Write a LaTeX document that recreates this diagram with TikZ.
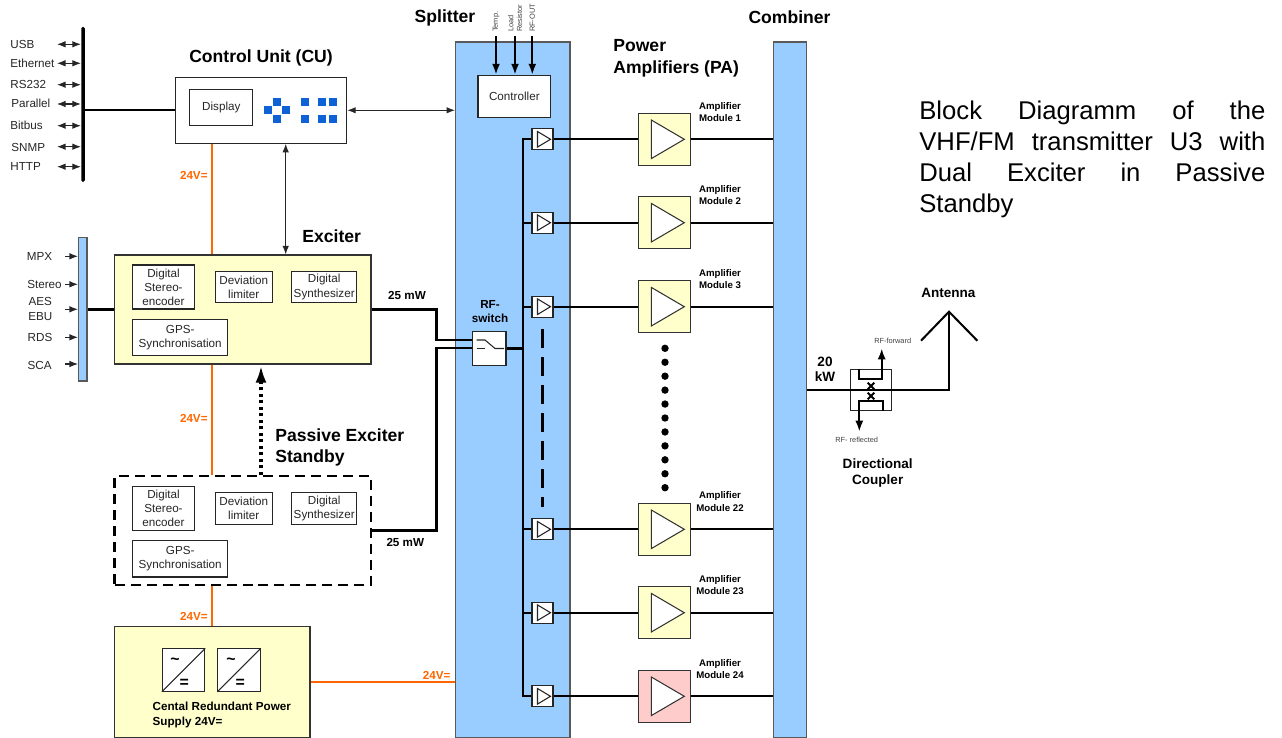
\documentclass[tikz,border=0pt]{standalone}
\usepackage{fontspec}
\setmainfont{Liberation Sans}
\usepackage{tikz}
\usetikzlibrary{arrows.meta}
\usetikzlibrary{shapes.misc}
\definecolor{myblockcolor}{HTML}{99CCFF}
\definecolor{mymodulecolor}{HTML}{FFFFCC}
\definecolor{myfaultcolor}{HTML}{FFCCCC}
\definecolor{mypowercolor}{HTML}{FF6600}
\definecolor{mykeycolor}{HTML}{0F62D6}
\tikzset{
  mytext/.style={inner sep=0pt, align=center, text=black!85, font=\fontsize{6.64pt}{8pt}\selectfont},
  mybold/.style={inner sep=0pt, align=center, font=\bfseries\fontsize{6.64pt}{8pt}\selectfont},
  myhead/.style={inner sep=0pt, align=left, font=\bfseries\fontsize{10pt}{12.4pt}\selectfont},
  mymid/.style={inner sep=0pt, align=center, font=\bfseries\fontsize{7.7pt}{8.6pt}\selectfont},
  mytiny/.style={inner sep=0pt, align=left, text=black!75, font=\fontsize{4.2pt}{5pt}\selectfont},
  myvolt/.style={mybold, text=mypowercolor},
  mymodule/.style={mybold, font=\bfseries\fontsize{5.5pt}{6.9pt}\selectfont},
  mybox/.style={draw=black!85, fill=white, rectangle, line width=0.6pt, mytext},
  myfield/.style={draw=black!80, fill=mymodulecolor, rectangle, line width=0.7pt, inner sep=0pt},
  myblock/.style={draw=black!65, fill=myblockcolor, rectangle, line width=0.8pt, inner sep=0pt},
  mykey/.style={fill=mykeycolor, rectangle, inner sep=0pt, minimum width=0.16cm, minimum height=0.16cm},
  mycross/.style={draw, cross out, line width=1.15pt, inner sep=0pt, minimum size=0.09cm},
  mypre/.style={draw=black!85, fill=white, rectangle, line width=0.6pt, inner sep=0pt, minimum width=0.42cm, minimum height=0.42cm,
    path picture={\draw[fill=white, line width=0.6pt] (-0.1,0.156) -- (0.16,0) -- (-0.1,-0.156) -- cycle;}},
  myamp/.style={myfield, minimum width=1.04cm, minimum height=1.04cm, fill=#1,
    path picture={\draw[fill=white, line width=0.6pt] (-0.268,0.386) -- (0.392,0) -- (-0.268,-0.386) -- cycle;}},
  myconv/.style={mybox, minimum width=0.846cm, minimum height=0.846cm},
  mythin/.style={line width=0.6pt, black!85},
  mythick/.style={line width=1.15pt},
  mytrunk/.style={line width=1.15pt},
  mysupply/.style={line width=1.2pt, mypowercolor},
  mybi/.style={mythin, {Latex[length=0.17cm,width=0.13cm]}-{Latex[length=0.17cm,width=0.13cm]}},
  myin/.style={mythin, -{Latex[length=0.17cm,width=0.13cm]}},
  mybig/.style={line width=1.15pt, -{Latex[length=0.22cm,width=0.16cm]}}
}

\begin{document}
\begin{tikzpicture}%
\useasboundingbox (0,0) rectangle (25.64,-14.76);%
\node[myblock, minimum width=2.286cm, minimum height=13.92cm] (splitter) at (10.257,-7.8) {};%
\node[myblock, minimum width=0.668cm, minimum height=13.92cm] (combiner) at (15.8,-7.8) {};%
\node[myhead] (splitterlabel) at (8.9,-0.354) {Splitter};%
\node[myhead] (combinerlabel) at (15.79,-0.354) {Combiner};%
\node[myhead, anchor=west] (palabel) at (12.26,-1.16) {Power\\Amplifiers (PA)};%
\node[fill=black, rectangle, inner sep=0pt, rounded corners=0.03cm, minimum width=0.07cm, minimum height=3.1cm] (bus) at (1.66,-2.09) {};%
\node[mytext, anchor=west] (usb) at (0.2,-0.88) {USB};%
\node[mytext, anchor=west] (ethernet) at (0.2,-1.26) {Ethernet};%
\node[mytext, anchor=west] (rsport) at (0.2,-1.68) {RS232};%
\node[mytext, anchor=west] (parallel) at (0.22,-2.06) {Parallel};%
\node[mytext, anchor=west] (bitbus) at (0.2,-2.5) {Bitbus};%
\node[mytext, anchor=west] (snmp) at (0.22,-2.94) {SNMP};%
\node[mytext, anchor=west] (http) at (0.2,-3.32) {HTTP};%
\coordinate (usbend) at (1.14,-0.886);%
\coordinate (ethernetend) at (1.14,-1.266);%
\coordinate (rsportend) at (1.14,-1.694);%
\coordinate (parallelend) at (1.14,-2.08);%
\coordinate (bitbusend) at (1.14,-2.514);%
\coordinate (snmpend) at (1.14,-2.934);%
\coordinate (httpend) at (1.14,-3.334);%
\node[myhead] (culabel) at (5.22,-1.16) {Control Unit (CU)};%
\node[mybox, minimum width=3.42cm, minimum height=1.32cm] (cu) at (5.224,-2.206) {};%
\node[mybox, minimum width=1.254cm, minimum height=0.728cm] (display) at (4.426,-2.15) {Display};%
\node[mykey] (keyup) at (5.54,-2.04) {};%
\node[mykey] (keyleft) at (5.354,-2.206) {};%
\node[mykey] (keyright) at (5.72,-2.206) {};%
\node[mykey] (keydown) at (5.54,-2.374) {};%
\node[mykey] (keya) at (6.1,-2.04) {};%
\node[mykey] (keyb) at (6.434,-2.04) {};%
\node[mykey] (keyc) at (6.654,-2.04) {};%
\node[mykey] (keyd) at (6.1,-2.374) {};%
\node[mykey] (keye) at (6.434,-2.374) {};%
\node[mykey] (keyf) at (6.654,-2.374) {};%
\node[myblock, minimum width=0.166cm, minimum height=2.874cm] (inbar) at (1.657,-6.183) {};%
\node[mytext] (mpx) at (0.79,-5.134) {MPX};%
\node[mytext] (stereo) at (0.89,-5.68) {Stereo};%
\node[mytext] (aesebu) at (0.806,-6.18) {AES\\EBU};%
\node[mytext] (rds) at (0.8,-6.754) {RDS};%
\node[mytext] (sca) at (0.794,-7.3) {SCA};%
\coordinate (mpxend) at (1.3,-5.126);%
\coordinate (stereoend) at (1.3,-5.686);%
\coordinate (aesebuend) at (1.3,-6.186);%
\coordinate (rdsend) at (1.3,-6.746);%
\coordinate (scaend) at (1.3,-7.28);%
\node[myhead] (exciterlabel) at (6.634,-4.72) {Exciter};%
\node[myfield, minimum width=5.13cm, minimum height=2.18cm] (exciter) at (4.855,-6.19) {};%
\node[mybox, minimum width=1.232cm, minimum height=0.88cm] (encoder) at (3.27,-5.74) {Digital\\Stereo-\\encoder};%
\node[mybox, minimum width=1.14cm, minimum height=0.628cm] (limiter) at (4.876,-5.74) {Deviation\\limiter};%
\node[mybox, minimum width=1.3cm, minimum height=0.628cm] (synth) at (6.484,-5.74) {Digital\\Synthesizer};%
\node[mybox, minimum width=1.9cm, minimum height=0.726cm] (gps) at (3.604,-6.744) {GPS-\\Synchronisation};%
\node[myhead, anchor=west] (passivelabel) at (5.5,-8.95) {Passive Exciter\\Standby};%
\node[draw, rectangle, inner sep=0pt, line width=1.2pt, dash pattern=on 0.2cm off 0.12cm, minimum width=5.13cm, minimum height=2.18cm] (standby) at (4.855,-10.61) {};%
\node[mybox, minimum width=1.232cm, minimum height=0.88cm] (encoderb) at (3.27,-10.17) {Digital\\Stereo-\\encoder};%
\node[mybox, minimum width=1.14cm, minimum height=0.628cm] (limiterb) at (4.876,-10.17) {Deviation\\limiter};%
\node[mybox, minimum width=1.3cm, minimum height=0.628cm] (synthb) at (6.484,-10.17) {Digital\\Synthesizer};%
\node[mybox, minimum width=1.9cm, minimum height=0.726cm] (gpsb) at (3.604,-11.177) {GPS-\\Synchronisation};%
\node[myfield, minimum width=3.906cm, minimum height=2.226cm] (power) at (4.247,-13.647) {};%
\node[myconv] (conva) at (3.67,-13.4) {};%
\node[myconv] (convb) at (4.78,-13.4) {};%
\node[mybold, font=\bfseries\fontsize{9pt}{9pt}\selectfont] (tildea) at (3.5,-13.234) {\textasciitilde};%
\node[mybold, font=\bfseries\fontsize{9pt}{9pt}\selectfont] (equala) at (3.686,-13.666) {=};%
\node[mybold, font=\bfseries\fontsize{9pt}{9pt}\selectfont] (tildeb) at (4.62,-13.234) {\textasciitilde};%
\node[mybold, font=\bfseries\fontsize{9pt}{9pt}\selectfont] (equalb) at (4.806,-13.666) {=};%
\node[mybold, anchor=west, align=left, font=\bfseries\fontsize{6.65pt}{8.3pt}\selectfont] (powerlabel) at (3.046,-14.3) {Cental Redundant Power\\Supply 24V=};%
\node[myvolt] (volta) at (3.876,-3.5) {24V=};%
\node[myvolt] (voltb) at (3.876,-8.366) {24V=};%
\node[myvolt] (voltc) at (3.88,-12.334) {24V=};%
\node[myvolt] (voltd) at (8.734,-13.5) {24V=};%
\node[mybold] (mwa) at (8.14,-5.914) {25 mW};%
\node[mybold] (mwb) at (8.106,-10.854) {25 mW};%
\node[mybox, minimum width=1.454cm, minimum height=0.84cm] (controller) at (10.287,-1.926) {Controller};%
\node[mytiny, anchor=west, rotate=90] (temp) at (9.92,-0.646) {Temp.};%
\node[mytiny, anchor=west, rotate=90] (load) at (10.3,-0.646) {Load\\Resistor};%
\node[mytiny, anchor=west, rotate=90] (rfout) at (10.646,-0.646) {RF-OUT};%
\node[mybold] (switchlabel) at (9.8,-6.24) {RF-\\switch};%
\node[mybox, minimum width=0.674cm, minimum height=0.674cm, path picture={\draw[line width=0.6pt] (-0.25,0.17) -- (-0.083,0.17) -- (0.117,0) -- (0.297,0); \draw[line width=0.6pt] (-0.25,0) -- (-0.083,0);}] (switch) at (9.783,-6.97) {};%
\node[mypre] (prea) at (10.85,-2.786) {};%
\node[mypre] (preb) at (10.85,-4.454) {};%
\node[mypre] (prec) at (10.85,-6.134) {};%
\node[mypre] (pred) at (10.85,-10.586) {};%
\node[mypre] (pree) at (10.85,-12.254) {};%
\node[mypre] (pref) at (10.85,-13.926) {};%
\node[myamp=mymodulecolor] (ampa) at (13.294,-2.786) {};%
\node[myamp=mymodulecolor] (ampb) at (13.294,-4.454) {};%
\node[myamp=mymodulecolor] (ampc) at (13.294,-6.134) {};%
\node[myamp=mymodulecolor] (ampd) at (13.294,-10.586) {};%
\node[myamp=mymodulecolor] (ampe) at (13.294,-12.254) {};%
\node[myamp=myfaultcolor] (ampf) at (13.294,-13.926) {};%
\node[mymodule] (moda) at (14.4,-2.234) {Amplifier\\Module 1};%
\node[mymodule] (modb) at (14.4,-3.902) {Amplifier\\Module 2};%
\node[mymodule] (modc) at (14.4,-5.582) {Amplifier\\Module 3};%
\node[mymodule] (modd) at (14.4,-10.03) {Amplifier\\Module 22};%
\node[mymodule] (mode) at (14.4,-11.702) {Amplifier\\Module 23};%
\node[mymodule] (modf) at (14.4,-13.374) {Amplifier\\Module 24};%
\node[draw=black!85, fill=white, rectangle, inner sep=0pt, line width=0.6pt, minimum width=0.82cm, minimum height=0.828cm] (coupler) at (17.416,-7.8) {};%
\node[mymid] (kwlabel) at (16.5,-7.38) {20\\kW};%
\node[mymid] (antennalabel) at (18.966,-5.854) {Antenna};%
\node[mymid, font=\bfseries\fontsize{7.7pt}{9.1pt}\selectfont] (couplerlabel) at (17.554,-9.46) {Directional\\Coupler};%
\node[mytiny] (forwardlabel) at (17.854,-6.82) {RF-forward};%
\node[mytiny] (reflectlabel) at (17.134,-8.8) {RF- reflected};%
\node[mycross] (crossa) at (17.42,-7.72) {};%
\node[mycross] (crossb) at (17.42,-7.92) {};%
\node[anchor=west, inner sep=0pt, text width=6.92cm, align=justify, font=\fontsize{14.6pt}{17.6pt}\selectfont] (titlelabel) at (18.38,-3.18) {Block Diagramm of the\linebreak VHF/FM transmitter U3 with\linebreak Dual Exciter in Passive\linebreak Standby};%
\coordinate (culink) at (5.714,-3);%
\coordinate (passiveup) at (5.22,-8);%
\coordinate (bend) at (8.73,-8);%
\coordinate (swtop) at (9.446,-6.8);%
\coordinate (swbot) at (9.446,-6.966);%
\coordinate (trunk) at (10.454,-8);%
\coordinate (dotstop) at (13.3,-6.966);%
\coordinate (dotsbot) at (13.3,-9.76);%
\coordinate (antfeed) at (18.98,-7.8);%
\coordinate (anttop) at (18.98,-6.234);%
\coordinate (antleft) at (18.42,-6.814);%
\coordinate (antright) at (19.546,-6.814);%
\coordinate (fwdin) at (17.186,-7.574);%
\coordinate (fwdtip) at (17.634,-6.966);%
\coordinate (refin) at (17.666,-8.02);%
\coordinate (reftip) at (17.186,-8.634);%
\draw[mybi] (usbend) -- (usbend -| bus.west);%
\draw[mybi] (ethernetend) -- (ethernetend -| bus.west);%
\draw[mybi] (rsportend) -- (rsportend -| bus.west);%
\draw[mybi] (parallelend) -- (parallelend -| bus.west);%
\draw[mybi] (bitbusend) -- (bitbusend -| bus.west);%
\draw[mybi] (snmpend) -- (snmpend -| bus.west);%
\draw[mybi] (httpend) -- (httpend -| bus.west);%
\draw[mythick] (bus.east |- cu.west) -- (cu.west);%
\draw[mybi] (cu.east) -- (cu.east -| splitter.west);%
\draw[mybi] (culink |- cu.south) -- (culink |- exciter.north);%
\draw[mysupply] (power.north |- cu.south) -- (power.north |- exciter.north);%
\draw[mysupply] (power.north |- exciter.south) -- (power.north |- standby.north);%
\draw[mysupply] (power.north |- standby.south) -- (power.north);%
\draw[mysupply] (power.east) -- (power.east -| splitter.west);%
\draw[myin] (mpxend) -- (mpxend -| inbar.west);%
\draw[myin] (stereoend) -- (stereoend -| inbar.west);%
\draw[myin] (aesebuend) -- (aesebuend -| inbar.west);%
\draw[myin] (rdsend) -- (rdsend -| inbar.west);%
\draw[myin] (scaend) -- (scaend -| inbar.west);%
\draw[mythick] (inbar.east |- exciter.west) -- (exciter.west);%
\draw[line width=1.9pt, dash pattern=on 0.065cm off 0.065cm, shorten >=0.02cm, -{Latex[length=0.34cm,width=0.22cm]}] (passiveup |- standby.north) -- (passiveup |- exciter.south);%
\draw[mythin] (conva.south west) -- (conva.north east);%
\draw[mythin] (convb.south west) -- (convb.north east);%
\draw[mythick] (exciter.east) -- (exciter.east -| bend) -- (bend |- swtop) -- (swtop);%
\draw[mythick] (standby.east) -- (standby.east -| bend) -- (bend |- swbot) -- (swbot);%
\draw[mythick] (switch.east) -- (switch.east -| trunk);%
\draw[mybig, shorten <=0.07cm] (temp.west) -- (temp.west |- controller.north);%
\draw[mybig, shorten <=0.07cm] (load.west) -- (load.west |- controller.north);%
\draw[mybig, shorten <=0.07cm] (rfout.west) -- (rfout.west |- controller.north);%
\draw[mytrunk] (prea.west) -- (prea.west -| trunk) -- (pref.west -| trunk) -- (pref.west);%
\draw[mytrunk] (preb.west -| trunk) -- (preb.west);%
\draw[mytrunk] (prec.west -| trunk) -- (prec.west);%
\draw[mytrunk] (pred.west -| trunk) -- (pred.west);%
\draw[mytrunk] (pree.west -| trunk) -- (pree.west);%
\draw[mytrunk] (prea.east) -- (ampa.west);%
\draw[mytrunk] (preb.east) -- (ampb.west);%
\draw[mytrunk] (prec.east) -- (ampc.west);%
\draw[mytrunk] (pred.east) -- (ampd.west);%
\draw[mytrunk] (pree.east) -- (ampe.west);%
\draw[mytrunk] (pref.east) -- (ampf.west);%
\draw[mytrunk] (ampa.east) -- (ampa.east -| combiner.west);%
\draw[mytrunk] (ampb.east) -- (ampb.east -| combiner.west);%
\draw[mytrunk] (ampc.east) -- (ampc.east -| combiner.west);%
\draw[mytrunk] (ampd.east) -- (ampd.east -| combiner.west);%
\draw[mytrunk] (ampe.east) -- (ampe.east -| combiner.west);%
\draw[mytrunk] (ampf.east) -- (ampf.east -| combiner.west);%
\draw[line width=1.15pt, dash pattern=on 0.38cm off 0.18cm, shorten <=0.226cm, shorten >=0.22cm] (prec.south) -- (pred.north);%
\draw[line width=4.2pt, line cap=round, dash pattern=on 0pt off 0.2788cm] (dotstop) -- (dotsbot);%
\draw[mythick] (combiner.east |- coupler.west) -- (antfeed) -- (anttop);%
\draw[mythick] (antleft) -- (anttop) -- (antright);%
\draw[mybig] (fwdin |- coupler.north) -- (fwdin) -- (fwdin -| fwdtip) -- (fwdtip);%
\draw[mybig] (refin |- coupler.south) -- (refin) -- (refin -| reftip) -- (reftip);%
\end{tikzpicture}
\end{document}
